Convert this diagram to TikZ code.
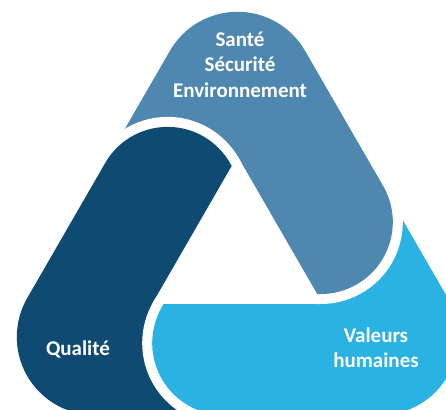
\documentclass[tikz,border=0pt]{standalone}
\usepackage{fontspec}
\setmainfont{Carlito}
\definecolor{qual}{HTML}{0F4A73}
\definecolor{sse}{HTML}{4E87B0}
\definecolor{vh}{HTML}{29B2E2}
\newcommand\toppath{(83.8,200) -- (169.95,50.8) arc[start angle=210, end angle=330, radius=78] -- (383.15,186) arc[start angle=-30, end angle=90, radius=72] -- (317.2,294) -- (237.5,155.9) -- (212.0,200) -- cycle}
\newcommand\lightpath{(373.87,170) -- (447.75,298) arc[start angle=-30, end angle=90, radius=78] -- (224.2,415) arc[start angle=90, end angle=210, radius=72] -- (163.55,304) -- (323,304) -- (245.6,170) -- cycle}
\newcommand\darkpath{(230,415) -- (94.8,415) arc[start angle=90, end angle=210, radius=78] -- (105.25,162.9) arc[start angle=210, end angle=330, radius=72] -- (231.7,165.9) -- (152,304) -- (230,304) -- cycle}
\begin{document}
\begin{tikzpicture}[x=1pt,y=-1pt,
  gapline/.style={draw=white, line width=20pt, line join=round},
  bandfill/.style={fill=#1, preaction={gapline}},
  lbl/.style={text=white, font=\bfseries\fontsize{21}{25}\selectfont, anchor=base, inner sep=0pt}]
\useasboundingbox (0,0) rectangle (446,409);
\clip (0,0) rectangle (446,409);
\fill[bandfill=vh] \lightpath;
\fill[bandfill=sse] \toppath;
\fill[bandfill=qual] \darkpath;
\begin{scope}
  \clip (130,285) rectangle (258,430);
  \path[gapline] \lightpath;
\end{scope}
\begin{scope}
  \clip (130,285) rectangle (275,430);
  \fill[vh] \lightpath;
\end{scope}
\node[lbl] (s1) at (240,47) {Santé};
\node[lbl] (s2) at (240,72) {Sécurité};
\node[lbl] (s3) at (240,97) {Environnement};
\node[lbl] (q) at (78,355) {Qualité};
\node[lbl] (v1) at (376,342) {Valeurs};
\node[lbl] (v2) at (376,367) {humaines};
\end{tikzpicture}
\end{document}
